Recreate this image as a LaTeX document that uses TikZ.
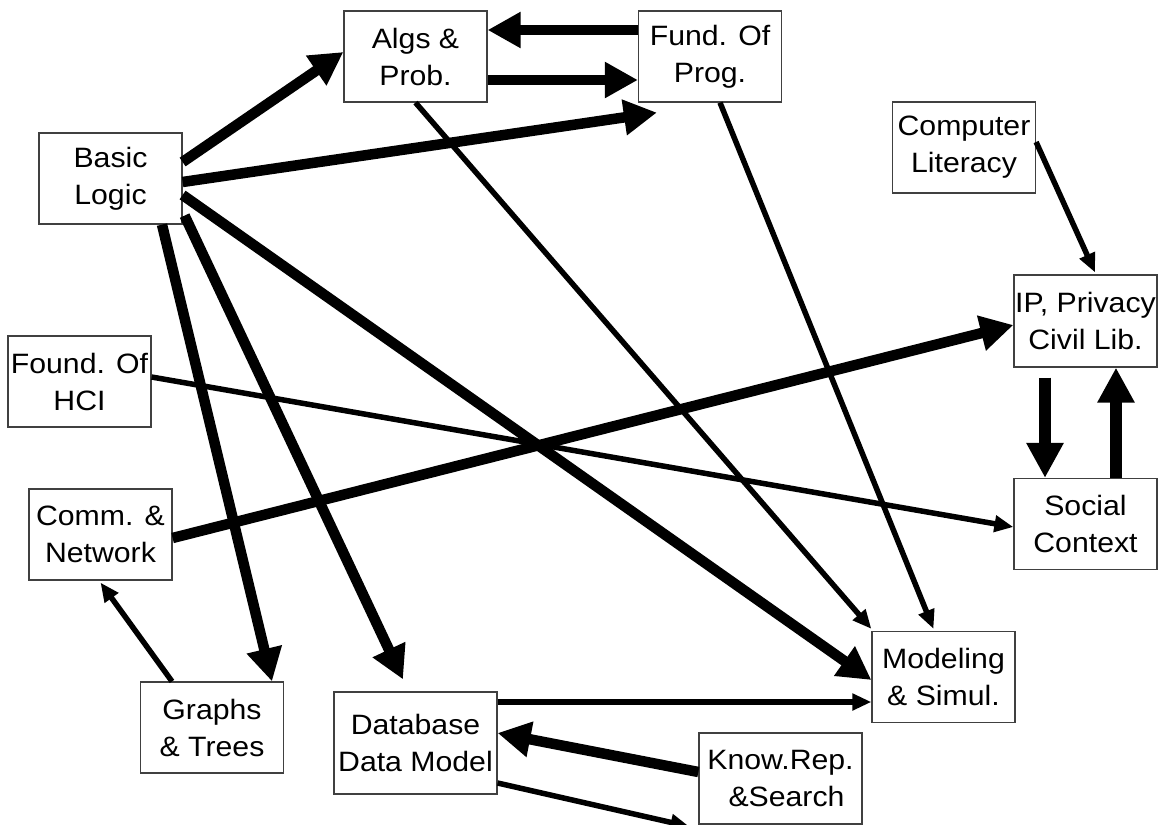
\documentclass[tikz,border=0pt]{standalone}
\usepackage{fontspec}
\setmainfont{Liberation Sans}[FakeStretch=1.08]
\usetikzlibrary{arrows.meta}
\begin{document}
\begin{tikzpicture}[x=1pt,y=-1pt,
  box/.style={draw=black!75, line width=1.2pt, fill=white, inner sep=0pt,
    minimum width=143pt, minimum height=91pt, align=center,
    font=\fontsize{28}{37}\selectfont},
  bigarrow/.style={line width=10.5pt, -{Triangle[length=33pt,width=34pt]}},
  hugearrow/.style={line width=12.5pt, -{Triangle[length=35pt,width=35pt]}},
  smallarrow/.style={line width=5.5pt, -{Triangle[length=19pt,width=16pt]}}]
\useasboundingbox (0,0) rectangle (1160,825);
\clip (0,0) rectangle (1160,825);
\fill[white] (0,0) rectangle (1160,825);

\node[box] (algs) at (415.5,56.5) {Algs \&\\Prob.};
\node[box] (fund) at (710,56.5) {Fund. Of\\Prog.};
\node[box] (basic) at (110.5,178.5) {Basic\\Logic};
\node[box] (comp) at (964,147.5) {Computer\\Literacy};
\node[box, minimum height=92pt] (ip) at (1085.5,321) {IP, Privacy\\Civil Lib.};
\node[box] (hci) at (79.5,381.5) {Found. Of\\HCI};
\node[box] (social) at (1085.5,524) {Social\\Context};
\node[box] (comm) at (100.5,534.5) {Comm. \&\\Network};
\node[box] (model) at (943.5,677) {Modeling\\\& Simul.};
\node[box] (graphs) at (212,727.5) {Graphs\\\& Trees};
\node[box, minimum width=163pt, minimum height=102pt] (db) at (415.5,743) {Database\\Data Model};
\node[box, minimum width=163pt] (know) at (780.5,778.5) {Know.Rep.\\\hspace*{12pt}\&Search};

\draw[bigarrow] ([yshift=16.5pt]basic.east) -- ([yshift=4.5pt]algs.west);
\draw[bigarrow] ([yshift=-3.5pt]basic.east) -- ([xshift=19pt,yshift=-10pt]fund.south west);
\draw[bigarrow] ([yshift=-23.5pt]algs.east) -- ([yshift=-23.5pt]fund.west);
\draw[bigarrow] ([yshift=26.5pt]fund.west) -- ([yshift=26.5pt]algs.east);
\draw[smallarrow] (algs.south) -- ([yshift=2pt]model.north west);
\draw[smallarrow] ([xshift=10pt]fund.south) -- ([xshift=-10pt,yshift=2pt]model.north);
\draw[smallarrow] ([yshift=5.5pt]comp.east) -- ([xshift=9.5pt,yshift=2pt]ip.north);
\draw[hugearrow] ([xshift=-40.5pt,yshift=-10pt]ip.south) -- ([xshift=-40.5pt]social.north);
\draw[hugearrow] ([xshift=30.5pt]social.north) -- ([xshift=30.5pt]ip.south);
\draw[bigarrow] ([yshift=-3.5pt]comm.east) -- ([yshift=-4pt]ip.west);
\draw[smallarrow] ([yshift=4.5pt]hci.east) -- ([yshift=-3pt]social.west);
\draw[bigarrow] ([yshift=-16.5pt]basic.east) -- ([yshift=-3pt]model.west);
\draw[bigarrow] ([xshift=51.5pt]basic.south) -- ([xshift=60pt]graphs.north);
\draw[bigarrow] ([xshift=2pt,yshift=9pt]basic.south east) -- ([xshift=-12.5pt,yshift=12pt]db.north);
\draw[smallarrow] ([xshift=-40pt]graphs.north) -- ([yshift=-2pt]comm.south);
\draw[smallarrow] ([yshift=41pt]db.east) -- ([yshift=-25pt]model.west);
\draw[bigarrow] ([yshift=6.5pt]know.west) -- ([yshift=10pt]db.east);
\draw[smallarrow] ([yshift=-40pt]db.east) -- ([xshift=-9pt,yshift=-2pt]know.south west);
\end{tikzpicture}
\end{document}
